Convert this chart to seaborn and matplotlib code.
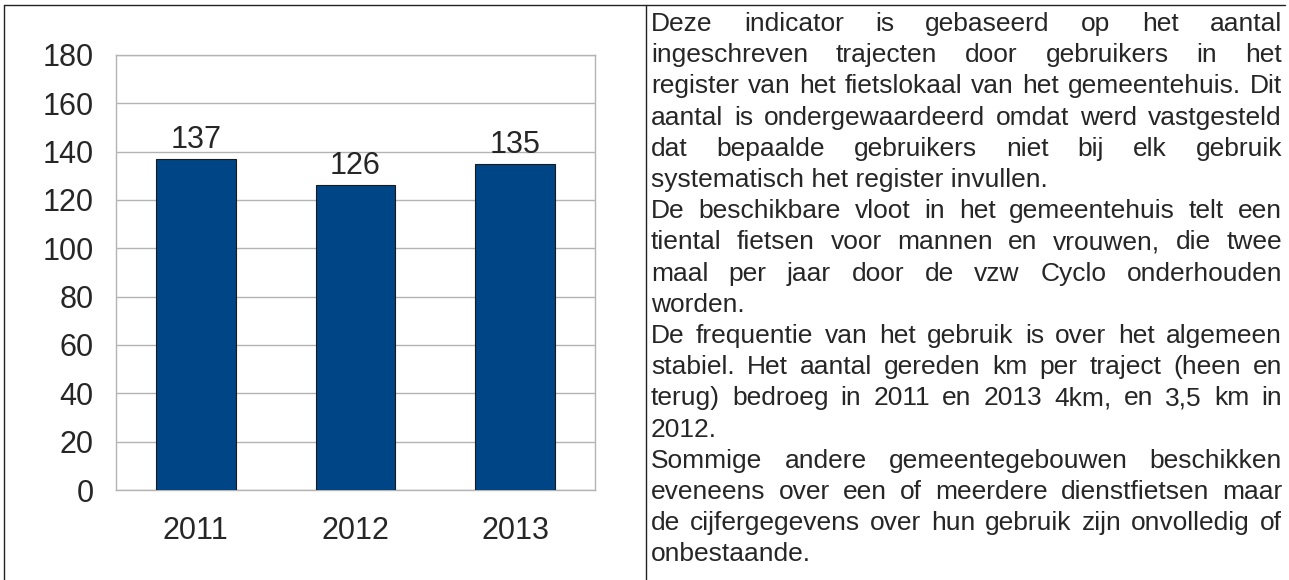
import matplotlib
matplotlib.use("Agg")
import matplotlib.pyplot as plt
import seaborn as sns
from matplotlib.lines import Line2D

years = ["2011", "2012", "2013"]
trajecten = [137, 126, 135]
y_ticks = [0, 20, 40, 60, 80, 100, 120, 140, 160, 180]

# text of the right cell, line by line as in the original table
paragraphs = [
    ["Deze indicator is gebaseerd op het aantal",
     "ingeschreven trajecten door gebruikers in het",
     "register van het fietslokaal van het gemeentehuis. Dit",
     "aantal is ondergewaardeerd omdat werd vastgesteld",
     "dat bepaalde gebruikers niet bij elk gebruik",
     "systematisch het register invullen."],
    ["De beschikbare vloot in het gemeentehuis telt een",
     "tiental fietsen voor mannen en vrouwen, die twee",
     "maal per jaar door de vzw Cyclo onderhouden",
     "worden."],
    ["De frequentie van het gebruik is over het algemeen",
     "stabiel. Het aantal gereden km per traject (heen en",
     "terug) bedroeg in 2011 en 2013 4km, en 3,5 km in",
     "2012."],
    ["Sommige andere gemeentegebouwen beschikken",
     "eveneens over een of meerdere dienstfietsen maar",
     "de cijfergegevens over hun gebruik zijn onvolledig of",
     "onbestaande."],
]

sns.set_style("white")
plt.rcParams['font.family'] = ['Liberation Sans', 'DejaVu Sans']

W, H = 1289, 580
fig = plt.figure(figsize=(W / 100, H / 100), dpi=100)
ax = fig.add_axes([116 / W, (H - 490) / H, (595 - 116) / W, (490 - 55) / H])

grey = "#b3b3b3"
sns.barplot(x=years, y=trajecten, color="#004586", saturation=1, width=0.5,
            edgecolor="#1a1a1a", linewidth=0.8, ax=ax, zorder=3)

ax.set_ylim(0, 180)
ax.set_xlim(-0.5, 2.5)
ax.set_yticks(y_ticks)
ax.yaxis.grid(True, color=grey, linewidth=1)
ax.set_axisbelow(True)
for s in ax.spines.values():
    s.set_color(grey)
    s.set_linewidth(1)
ax.tick_params(axis="y", length=7.2, width=1, color=grey, pad=9, labelsize=22, direction="out")
ax.tick_params(axis="x", which="major", length=0, pad=19, labelsize=22)
ax.set_xticks([-0.5, 0.5, 1.5, 2.5], minor=True)
ax.tick_params(axis="x", which="minor", length=7.5, width=1, color=grey, direction="out")
ax.set_xlabel("")
ax.set_ylabel("")

for i, v in enumerate(trajecten):
    ax.annotate(str(v), (i, v), xytext=(0, 3), textcoords="offset points",
                ha="center", va="bottom", fontsize=22)

# table borders
line_kw = dict(color="#222222", linewidth=1.0, transform=fig.transFigure)
fig.add_artist(Line2D([4 / W, 1285 / W], [1 - 5 / H, 1 - 5 / H], **line_kw))
fig.add_artist(Line2D([4 / W, 4 / W], [0, 1 - 5 / H], **line_kw))
fig.add_artist(Line2D([646 / W, 646 / W], [0, 1 - 5 / H], **line_kw))

# justified text
left, right = 651, 1282
base0, step = 31, 31.2
fs = 19
renderer = fig.canvas.get_renderer()
row = 0
for para in paragraphs:
    for k, line in enumerate(para):
        yb = 1 - (base0 + row * step) / H
        words = line.split(" ")
        last = k == len(para) - 1
        if last:
            fig.text(left / W, yb, line, fontsize=fs, ha="left", va="baseline")
        else:
            objs = [fig.text(0, yb, w, fontsize=fs, ha="left", va="baseline") for w in words]
            widths = [o.get_window_extent(renderer).width for o in objs]
            gap = (right - left - sum(widths)) / (len(words) - 1)
            x = left
            for o, wd in zip(objs, widths):
                o.set_x(x / W)
                x += wd + gap
        row += 1

fig.savefig("out.png", dpi=100)
